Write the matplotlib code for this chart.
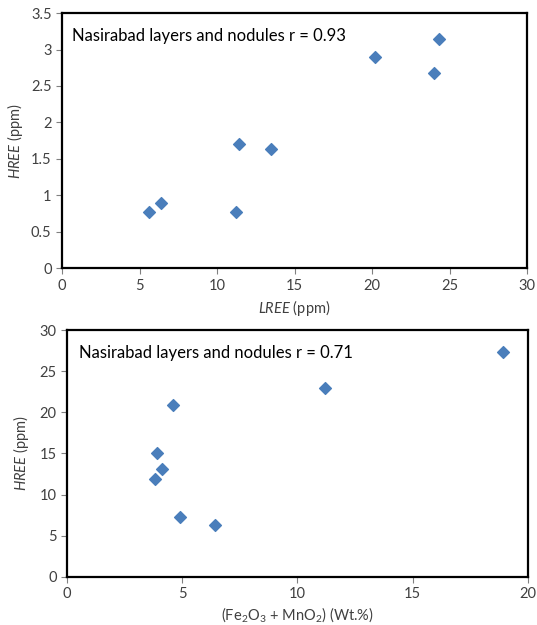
import matplotlib
matplotlib.use('Agg')
import matplotlib.pyplot as plt

# top panel: LREE vs HREE
lree = [5.6, 6.4, 11.2, 11.4, 13.5, 20.2, 24.0, 24.3]
hree_top = [0.77, 0.90, 0.77, 1.70, 1.63, 2.90, 2.68, 3.14]

# bottom panel: Fe2O3 + MnO2 vs HREE
fe_mn = [3.8, 3.9, 4.1, 4.6, 4.9, 6.4, 11.2, 18.9]
hree_bot = [11.9, 15.1, 13.1, 20.9, 7.3, 6.3, 23.0, 27.3]

top_xticks = [0, 5, 10, 15, 20, 25, 30]
top_yticks = [0, 0.5, 1, 1.5, 2, 2.5, 3, 3.5]
bot_xticks = [0, 5, 10, 15, 20]
bot_yticks = [0, 5, 10, 15, 20, 25, 30]

plt.rcParams['font.family'] = ['Lato', 'DejaVu Sans']
plt.rcParams['mathtext.fontset'] = 'custom'
plt.rcParams['mathtext.rm'] = 'Lato'
plt.rcParams['mathtext.it'] = 'Lato:italic'

MARKER_COLOR = '#4a7ebb'
TEXT_COLOR = '#404040'


def style_axes(ax, xticks, yticks):
    ax.set_xlim(xticks[0], xticks[-1])
    ax.set_ylim(yticks[0], yticks[-1])
    ax.set_xticks(xticks)
    ax.set_yticks(yticks)
    ax.set_xticklabels([f'{t:g}' for t in xticks])
    ax.set_yticklabels([f'{t:g}' for t in yticks])
    for s in ax.spines.values():
        s.set_linewidth(1.6)
        s.set_color('black')
    ax.tick_params(direction='out', length=4, color='#808080',
                   labelsize=10.5, labelcolor=TEXT_COLOR)


fig = plt.figure(figsize=(5.37, 6.25), dpi=100)

ax1 = fig.add_axes([0.1155, 0.571, 0.866, 0.408])
ax1.scatter(lree, hree_top, marker='D', s=36, color=MARKER_COLOR, zorder=3)
style_axes(ax1, top_xticks, top_yticks)
ax1.set_xlabel(r'$\mathit{LREE}$ (ppm)', fontsize=10.5, color=TEXT_COLOR, labelpad=4)
ax1.set_ylabel(r'$\mathit{HREE}$ (ppm)', fontsize=10.5, color=TEXT_COLOR, labelpad=4)
ax1.text(0.022, 0.94, 'Nasirabad layers and nodules r = 0.93', transform=ax1.transAxes,
         fontsize=12, color='black', va='top', ha='left')

ax2 = fig.add_axes([0.125, 0.077, 0.858, 0.395])
ax2.scatter(fe_mn, hree_bot, marker='D', s=36, color=MARKER_COLOR, zorder=3)
style_axes(ax2, bot_xticks, bot_yticks)
ax2.set_xlabel(r'(Fe$_2$O$_3$ + MnO$_2$) (Wt.%)', fontsize=10.5, color=TEXT_COLOR, labelpad=3)
ax2.set_ylabel(r'$\mathit{HREE}$ (ppm)', fontsize=10.5, color=TEXT_COLOR, labelpad=6)
ax2.text(0.025, 0.94, 'Nasirabad layers and nodules r = 0.71', transform=ax2.transAxes,
         fontsize=12, color='black', va='top', ha='left')

fig.savefig('out.png', dpi=100)
